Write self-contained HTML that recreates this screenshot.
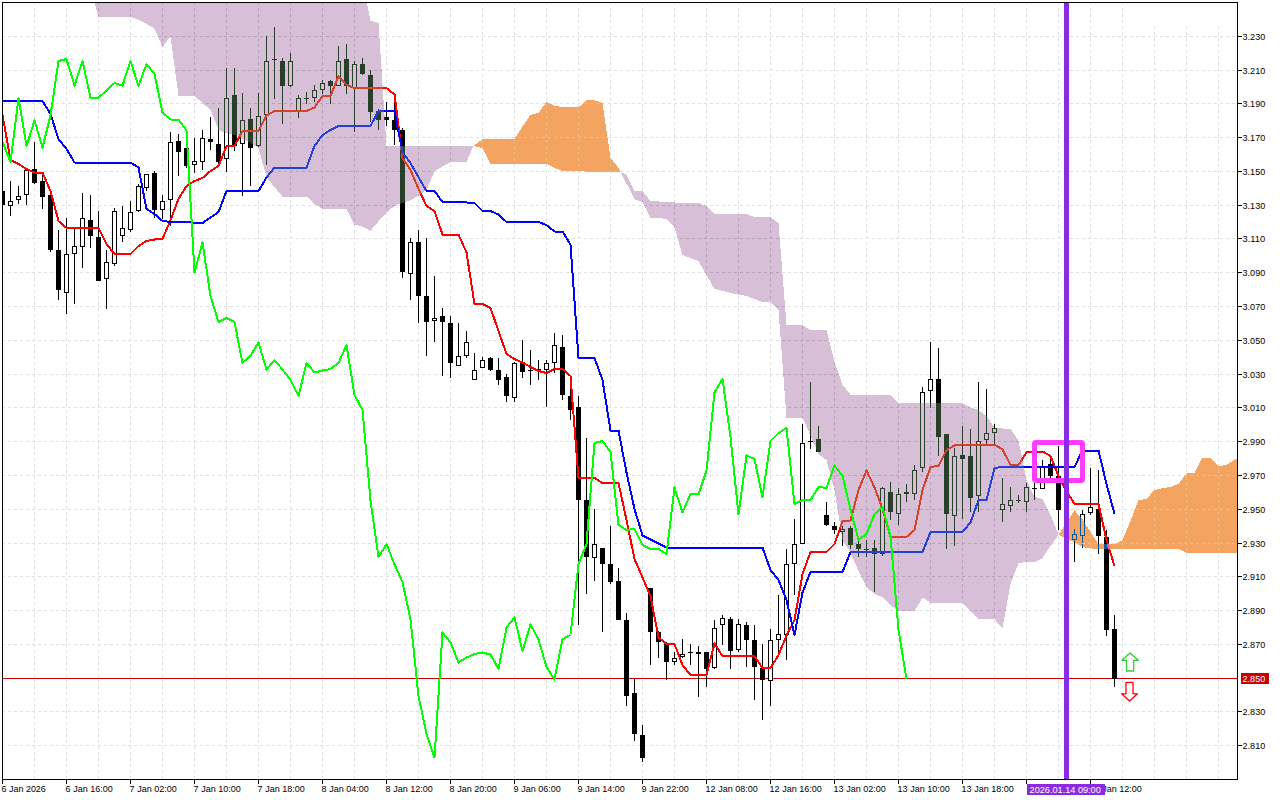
<!DOCTYPE html><html><head><meta charset="utf-8"><title>Chart</title>
<style>html,body{margin:0;padding:0;background:#fff;overflow:hidden}svg{display:block}text{font-family:"Liberation Sans",sans-serif;font-size:9.5px}.ce{shape-rendering:crispEdges}</style></head><body>
<svg width="1280" height="800" viewBox="0 0 1280 800">
<defs>
<clipPath id="cp"><polygon points="94.6,3.0 367.0,3.0 370.5,21.0 378.5,23.0 386.5,146.0 473.5,146.0 466.5,161.8 458.5,162.0 450.5,162.0 442.5,166.5 434.5,171.2 426.5,190.0 418.5,195.6 410.5,200.3 402.5,203.0 394.5,206.0 386.5,212.5 378.5,221.5 370.5,230.7 362.5,226.5 354.5,224.7 346.5,208.8 338.5,208.8 330.5,208.8 322.5,208.8 314.5,204.0 306.5,196.5 298.5,196.5 290.5,196.5 282.5,196.5 274.5,187.0 266.5,177.0 258.5,148.0 250.5,143.0 242.5,139.0 234.5,135.0 226.5,133.0 218.5,130.0 210.5,109.7 202.5,103.0 194.5,96.0 186.5,96.0 178.5,95.6 170.5,36.5 162.5,47.0 154.5,28.5 146.5,24.0 138.5,19.5 130.5,17.0 122.5,16.9 114.5,16.8 106.5,16.6 98.5,16.5"/><polygon points="620.5,172.2 626.5,174.5 634.5,191.0 642.5,191.0 650.5,201.0 658.5,201.5 666.5,202.0 674.5,202.5 682.5,202.7 690.5,203.0 698.5,203.0 706.5,206.0 714.5,214.0 722.5,214.0 730.5,214.0 738.5,214.0 746.5,214.0 754.5,217.0 762.5,217.0 770.5,217.0 778.5,223.0 786.5,325.0 794.5,325.0 802.5,325.0 810.5,330.0 818.5,330.0 826.5,330.0 834.5,362.0 842.5,384.5 850.5,394.5 858.5,394.5 866.5,394.5 874.5,394.5 882.5,394.5 890.5,394.5 898.5,403.0 906.5,403.0 914.5,403.0 922.5,403.0 930.5,403.0 938.5,403.0 946.5,403.0 954.5,403.0 962.5,403.0 970.5,407.5 978.5,410.0 986.5,416.0 994.5,427.5 1002.5,428.5 1010.5,428.5 1018.5,440.5 1026.5,480.0 1034.5,497.0 1042.5,499.0 1050.5,514.5 1058.5,535.0 1050.5,546.0 1042.5,558.0 1034.5,562.0 1026.5,562.0 1018.5,563.0 1010.5,584.0 1002.5,628.0 994.5,619.4 986.5,619.4 978.5,619.4 970.5,611.0 962.5,603.0 954.5,603.0 946.5,603.0 938.5,603.0 930.5,602.5 922.5,597.5 914.5,611.0 906.5,611.0 898.5,611.0 890.5,605.0 882.5,597.0 874.5,594.0 866.5,587.0 858.5,571.0 850.5,552.5 842.5,540.0 834.5,490.0 826.5,460.0 818.5,454.0 810.5,436.0 802.5,417.5 794.5,417.5 786.5,417.5 778.5,310.0 770.5,302.0 762.5,302.0 754.5,299.0 746.5,296.0 738.5,294.5 730.5,293.0 722.5,291.0 714.5,289.0 706.5,275.0 698.5,261.0 690.5,258.0 682.5,255.0 674.5,227.5 666.5,219.0 658.5,218.0 650.5,217.5 642.5,202.0 634.5,199.5 626.5,183.5"/></clipPath>
<clipPath id="co"><polygon points="473.5,146.0 482.5,139.2 490.5,139.2 498.5,139.1 506.5,139.1 514.5,139.0 522.5,126.5 530.5,114.8 538.5,113.0 546.5,101.8 554.5,105.5 562.5,107.3 570.5,107.3 578.5,107.3 586.5,100.2 594.5,100.2 602.5,103.2 610.5,158.0 618.5,167.8 620.5,172.2 618.5,172.0 610.5,171.9 602.5,171.8 594.5,171.7 586.5,171.5 578.5,171.4 570.5,171.3 562.5,171.2 554.5,167.8 546.5,163.5 538.5,163.5 530.5,163.5 522.5,163.5 514.5,163.5 506.5,163.5 498.5,163.5 490.5,163.5 482.5,148.2"/><polygon points="1058.5,535.0 1066.5,522.5 1074.5,510.4 1082.5,519.0 1090.5,532.0 1098.5,544.0 1106.5,544.0 1114.5,544.0 1122.5,540.0 1130.5,521.0 1138.5,500.0 1146.5,499.0 1154.5,490.0 1162.5,488.0 1170.5,487.0 1178.5,484.0 1186.5,473.5 1194.5,473.0 1202.5,457.5 1210.5,458.5 1218.5,466.0 1226.5,465.0 1234.5,459.5 1237.0,459.0 1237.0,553.0 1234.5,553.0 1226.5,553.0 1218.5,553.0 1210.5,553.0 1202.5,553.0 1194.5,553.0 1186.5,553.0 1178.5,549.0 1170.5,549.0 1162.5,549.0 1154.5,549.0 1146.5,549.0 1138.5,549.0 1130.5,549.0 1122.5,549.0 1114.5,549.0 1106.5,549.0 1098.5,549.0 1090.5,548.4 1082.5,547.0 1074.5,542.0 1066.5,539.0"/></clipPath>
<clipPath id="chart"><rect x="3" y="3" width="1234" height="776"/></clipPath>
<g id="grid" class="ce" stroke-width="1" stroke-dasharray="3 3" fill="none"><line x1="2" x2="1237" y1="36.5" y2="36.5"/><line x1="2" x2="1237" y1="70.5" y2="70.5"/><line x1="2" x2="1237" y1="103.5" y2="103.5"/><line x1="2" x2="1237" y1="137.5" y2="137.5"/><line x1="2" x2="1237" y1="171.5" y2="171.5"/><line x1="2" x2="1237" y1="205.5" y2="205.5"/><line x1="2" x2="1237" y1="238.5" y2="238.5"/><line x1="2" x2="1237" y1="272.5" y2="272.5"/><line x1="2" x2="1237" y1="306.5" y2="306.5"/><line x1="2" x2="1237" y1="340.5" y2="340.5"/><line x1="2" x2="1237" y1="374.5" y2="374.5"/><line x1="2" x2="1237" y1="407.5" y2="407.5"/><line x1="2" x2="1237" y1="441.5" y2="441.5"/><line x1="2" x2="1237" y1="475.5" y2="475.5"/><line x1="2" x2="1237" y1="509.5" y2="509.5"/><line x1="2" x2="1237" y1="543.5" y2="543.5"/><line x1="2" x2="1237" y1="576.5" y2="576.5"/><line x1="2" x2="1237" y1="610.5" y2="610.5"/><line x1="2" x2="1237" y1="644.5" y2="644.5"/><line x1="2" x2="1237" y1="678.5" y2="678.5"/><line x1="2" x2="1237" y1="711.5" y2="711.5"/><line x1="2" x2="1237" y1="745.5" y2="745.5"/><line x1="34.5" x2="34.5" y1="2" y2="779"/><line x1="66.5" x2="66.5" y1="2" y2="779"/><line x1="98.5" x2="98.5" y1="2" y2="779"/><line x1="130.5" x2="130.5" y1="2" y2="779"/><line x1="162.5" x2="162.5" y1="2" y2="779"/><line x1="194.5" x2="194.5" y1="2" y2="779"/><line x1="226.5" x2="226.5" y1="2" y2="779"/><line x1="258.5" x2="258.5" y1="2" y2="779"/><line x1="290.5" x2="290.5" y1="2" y2="779"/><line x1="322.5" x2="322.5" y1="2" y2="779"/><line x1="354.5" x2="354.5" y1="2" y2="779"/><line x1="386.5" x2="386.5" y1="2" y2="779"/><line x1="418.5" x2="418.5" y1="2" y2="779"/><line x1="450.5" x2="450.5" y1="2" y2="779"/><line x1="482.5" x2="482.5" y1="2" y2="779"/><line x1="514.5" x2="514.5" y1="2" y2="779"/><line x1="546.5" x2="546.5" y1="2" y2="779"/><line x1="578.5" x2="578.5" y1="2" y2="779"/><line x1="610.5" x2="610.5" y1="2" y2="779"/><line x1="642.5" x2="642.5" y1="2" y2="779"/><line x1="674.5" x2="674.5" y1="2" y2="779"/><line x1="706.5" x2="706.5" y1="2" y2="779"/><line x1="738.5" x2="738.5" y1="2" y2="779"/><line x1="770.5" x2="770.5" y1="2" y2="779"/><line x1="802.5" x2="802.5" y1="2" y2="779"/><line x1="834.5" x2="834.5" y1="2" y2="779"/><line x1="866.5" x2="866.5" y1="2" y2="779"/><line x1="898.5" x2="898.5" y1="2" y2="779"/><line x1="930.5" x2="930.5" y1="2" y2="779"/><line x1="962.5" x2="962.5" y1="2" y2="779"/><line x1="994.5" x2="994.5" y1="2" y2="779"/><line x1="1026.5" x2="1026.5" y1="2" y2="779"/><line x1="1058.5" x2="1058.5" y1="2" y2="779"/><line x1="1090.5" x2="1090.5" y1="2" y2="779"/><line x1="1122.5" x2="1122.5" y1="2" y2="779"/><line x1="1154.5" x2="1154.5" y1="2" y2="779"/><line x1="1186.5" x2="1186.5" y1="2" y2="779"/><line x1="1218.5" x2="1218.5" y1="2" y2="779"/></g>
</defs>
<g style="isolation:isolate">
<rect x="0" y="0" width="1280" height="800" fill="#fff"/>
<use href="#grid" stroke="#e0e0e0"/>
<rect x="1124" y="3" width="113" height="23" fill="#fff"/>
<rect class="ce" x="3" y="678" width="1234" height="1" fill="#c80000"/>
<g class="ce" clip-path="url(#chart)">
<rect x="2" y="188" width="1" height="20" fill="#000"/>
<rect x="0" y="191" width="5" height="14" fill="#000"/>
<rect x="10" y="181" width="1" height="35" fill="#000"/>
<rect x="8" y="201" width="5" height="5" fill="#000"/>
<rect x="9" y="202" width="3" height="3" fill="#fff"/>
<rect x="18" y="186" width="1" height="18" fill="#000"/>
<rect x="16" y="196" width="5" height="4" fill="#000"/>
<rect x="17" y="197" width="3" height="2" fill="#fff"/>
<rect x="26" y="169" width="1" height="36" fill="#000"/>
<rect x="24" y="170" width="5" height="25" fill="#000"/>
<rect x="25" y="171" width="3" height="23" fill="#fff"/>
<rect x="34" y="142" width="1" height="42" fill="#000"/>
<rect x="32" y="169" width="5" height="14" fill="#000"/>
<rect x="42" y="174" width="1" height="35" fill="#000"/>
<rect x="40" y="181" width="5" height="16" fill="#000"/>
<rect x="50" y="195" width="1" height="57" fill="#000"/>
<rect x="48" y="195" width="5" height="55" fill="#000"/>
<rect x="58" y="230" width="1" height="70" fill="#000"/>
<rect x="56" y="250" width="5" height="40" fill="#000"/>
<rect x="66" y="218" width="1" height="96" fill="#000"/>
<rect x="64" y="254" width="5" height="39" fill="#000"/>
<rect x="65" y="255" width="3" height="37" fill="#fff"/>
<rect x="74" y="229" width="1" height="75" fill="#000"/>
<rect x="72" y="246" width="5" height="8" fill="#000"/>
<rect x="73" y="247" width="3" height="6" fill="#fff"/>
<rect x="82" y="193" width="1" height="75" fill="#000"/>
<rect x="80" y="218" width="5" height="29" fill="#000"/>
<rect x="81" y="219" width="3" height="27" fill="#fff"/>
<rect x="90" y="195" width="1" height="53" fill="#000"/>
<rect x="88" y="220" width="5" height="16" fill="#000"/>
<rect x="98" y="211" width="1" height="70" fill="#000"/>
<rect x="96" y="237" width="5" height="44" fill="#000"/>
<rect x="106" y="250" width="1" height="59" fill="#000"/>
<rect x="104" y="262" width="5" height="17" fill="#000"/>
<rect x="105" y="263" width="3" height="15" fill="#fff"/>
<rect x="114" y="208" width="1" height="58" fill="#000"/>
<rect x="112" y="211" width="5" height="53" fill="#000"/>
<rect x="113" y="212" width="3" height="51" fill="#fff"/>
<rect x="122" y="206" width="1" height="36" fill="#000"/>
<rect x="120" y="228" width="5" height="8" fill="#000"/>
<rect x="121" y="229" width="3" height="6" fill="#fff"/>
<rect x="130" y="201" width="1" height="31" fill="#000"/>
<rect x="128" y="212" width="5" height="18" fill="#000"/>
<rect x="129" y="213" width="3" height="16" fill="#fff"/>
<rect x="138" y="184" width="1" height="28" fill="#000"/>
<rect x="136" y="186" width="5" height="25" fill="#000"/>
<rect x="137" y="187" width="3" height="23" fill="#fff"/>
<rect x="146" y="174" width="1" height="17" fill="#000"/>
<rect x="144" y="174" width="5" height="14" fill="#000"/>
<rect x="145" y="175" width="3" height="12" fill="#fff"/>
<rect x="154" y="171" width="1" height="47" fill="#000"/>
<rect x="152" y="173" width="5" height="37" fill="#000"/>
<rect x="162" y="195" width="1" height="24" fill="#000"/>
<rect x="160" y="201" width="5" height="9" fill="#000"/>
<rect x="161" y="202" width="3" height="7" fill="#fff"/>
<rect x="170" y="132" width="1" height="94" fill="#000"/>
<rect x="168" y="142" width="5" height="58" fill="#000"/>
<rect x="169" y="143" width="3" height="56" fill="#fff"/>
<rect x="178" y="134" width="1" height="42" fill="#000"/>
<rect x="176" y="141" width="5" height="11" fill="#000"/>
<rect x="186" y="147" width="1" height="21" fill="#000"/>
<rect x="184" y="148" width="5" height="18" fill="#000"/>
<rect x="194" y="138" width="1" height="35" fill="#000"/>
<rect x="192" y="161" width="5" height="4" fill="#000"/>
<rect x="193" y="162" width="3" height="2" fill="#fff"/>
<rect x="202" y="130" width="1" height="40" fill="#000"/>
<rect x="200" y="138" width="5" height="24" fill="#000"/>
<rect x="201" y="139" width="3" height="22" fill="#fff"/>
<rect x="210" y="117" width="1" height="33" fill="#000"/>
<rect x="208" y="139" width="5" height="3" fill="#000"/>
<rect x="218" y="108" width="1" height="56" fill="#000"/>
<rect x="216" y="144" width="5" height="18" fill="#000"/>
<rect x="226" y="68" width="1" height="104" fill="#000"/>
<rect x="224" y="98" width="5" height="61" fill="#000"/>
<rect x="225" y="99" width="3" height="59" fill="#fff"/>
<rect x="234" y="68" width="1" height="83" fill="#000"/>
<rect x="232" y="95" width="5" height="51" fill="#000"/>
<rect x="242" y="93" width="1" height="103" fill="#000"/>
<rect x="240" y="120" width="5" height="24" fill="#000"/>
<rect x="241" y="121" width="3" height="22" fill="#fff"/>
<rect x="250" y="108" width="1" height="78" fill="#000"/>
<rect x="248" y="119" width="5" height="29" fill="#000"/>
<rect x="258" y="93" width="1" height="54" fill="#000"/>
<rect x="256" y="116" width="5" height="30" fill="#000"/>
<rect x="257" y="117" width="3" height="28" fill="#fff"/>
<rect x="266" y="36" width="1" height="129" fill="#000"/>
<rect x="264" y="61" width="5" height="54" fill="#000"/>
<rect x="265" y="62" width="3" height="52" fill="#fff"/>
<rect x="274" y="27" width="1" height="72" fill="#000"/>
<rect x="272" y="59" width="5" height="1" fill="#000"/>
<rect x="282" y="58" width="1" height="66" fill="#000"/>
<rect x="280" y="61" width="5" height="25" fill="#000"/>
<rect x="290" y="53" width="1" height="34" fill="#000"/>
<rect x="288" y="61" width="5" height="25" fill="#000"/>
<rect x="289" y="62" width="3" height="23" fill="#fff"/>
<rect x="298" y="95" width="1" height="23" fill="#000"/>
<rect x="296" y="98" width="5" height="13" fill="#000"/>
<rect x="297" y="99" width="3" height="11" fill="#fff"/>
<rect x="306" y="92" width="1" height="12" fill="#000"/>
<rect x="304" y="98" width="5" height="1" fill="#000"/>
<rect x="314" y="85" width="1" height="17" fill="#000"/>
<rect x="312" y="90" width="5" height="8" fill="#000"/>
<rect x="313" y="91" width="3" height="6" fill="#fff"/>
<rect x="322" y="80" width="1" height="14" fill="#000"/>
<rect x="320" y="83" width="5" height="7" fill="#000"/>
<rect x="321" y="84" width="3" height="5" fill="#fff"/>
<rect x="330" y="80" width="1" height="24" fill="#000"/>
<rect x="328" y="81" width="5" height="5" fill="#000"/>
<rect x="338" y="46" width="1" height="40" fill="#000"/>
<rect x="336" y="61" width="5" height="25" fill="#000"/>
<rect x="337" y="62" width="3" height="23" fill="#fff"/>
<rect x="346" y="44" width="1" height="50" fill="#000"/>
<rect x="344" y="59" width="5" height="27" fill="#000"/>
<rect x="354" y="61" width="1" height="71" fill="#000"/>
<rect x="352" y="64" width="5" height="24" fill="#000"/>
<rect x="353" y="65" width="3" height="22" fill="#fff"/>
<rect x="362" y="58" width="1" height="17" fill="#000"/>
<rect x="360" y="64" width="5" height="10" fill="#000"/>
<rect x="370" y="70" width="1" height="52" fill="#000"/>
<rect x="368" y="75" width="5" height="37" fill="#000"/>
<rect x="378" y="109" width="1" height="21" fill="#000"/>
<rect x="376" y="111" width="5" height="9" fill="#000"/>
<rect x="386" y="102" width="1" height="24" fill="#000"/>
<rect x="384" y="117" width="5" height="3" fill="#000"/>
<rect x="394" y="102" width="1" height="43" fill="#000"/>
<rect x="392" y="120" width="5" height="10" fill="#000"/>
<rect x="402" y="128" width="1" height="150" fill="#000"/>
<rect x="400" y="130" width="5" height="142" fill="#000"/>
<rect x="410" y="238" width="1" height="62" fill="#000"/>
<rect x="408" y="242" width="5" height="32" fill="#000"/>
<rect x="409" y="243" width="3" height="30" fill="#fff"/>
<rect x="418" y="230" width="1" height="93" fill="#000"/>
<rect x="416" y="242" width="5" height="54" fill="#000"/>
<rect x="426" y="238" width="1" height="118" fill="#000"/>
<rect x="424" y="296" width="5" height="26" fill="#000"/>
<rect x="434" y="276" width="1" height="66" fill="#000"/>
<rect x="432" y="318" width="5" height="3" fill="#000"/>
<rect x="433" y="319" width="3" height="1" fill="#fff"/>
<rect x="442" y="308" width="1" height="68" fill="#000"/>
<rect x="440" y="316" width="5" height="6" fill="#000"/>
<rect x="450" y="316" width="1" height="62" fill="#000"/>
<rect x="448" y="323" width="5" height="40" fill="#000"/>
<rect x="458" y="323" width="1" height="43" fill="#000"/>
<rect x="456" y="356" width="5" height="10" fill="#000"/>
<rect x="457" y="357" width="3" height="8" fill="#fff"/>
<rect x="466" y="331" width="1" height="27" fill="#000"/>
<rect x="464" y="342" width="5" height="14" fill="#000"/>
<rect x="465" y="343" width="3" height="12" fill="#fff"/>
<rect x="474" y="353" width="1" height="27" fill="#000"/>
<rect x="472" y="370" width="5" height="10" fill="#000"/>
<rect x="473" y="371" width="3" height="8" fill="#fff"/>
<rect x="482" y="357" width="1" height="11" fill="#000"/>
<rect x="480" y="360" width="5" height="8" fill="#000"/>
<rect x="481" y="361" width="3" height="6" fill="#fff"/>
<rect x="490" y="357" width="1" height="14" fill="#000"/>
<rect x="488" y="358" width="5" height="12" fill="#000"/>
<rect x="498" y="358" width="1" height="27" fill="#000"/>
<rect x="496" y="370" width="5" height="10" fill="#000"/>
<rect x="506" y="374" width="1" height="28" fill="#000"/>
<rect x="504" y="377" width="5" height="19" fill="#000"/>
<rect x="514" y="362" width="1" height="40" fill="#000"/>
<rect x="512" y="363" width="5" height="35" fill="#000"/>
<rect x="513" y="364" width="3" height="33" fill="#fff"/>
<rect x="522" y="340" width="1" height="38" fill="#000"/>
<rect x="520" y="363" width="5" height="9" fill="#000"/>
<rect x="530" y="350" width="1" height="35" fill="#000"/>
<rect x="528" y="370" width="5" height="1" fill="#000"/>
<rect x="538" y="360" width="1" height="20" fill="#000"/>
<rect x="536" y="369" width="5" height="1" fill="#000"/>
<rect x="546" y="360" width="1" height="47" fill="#000"/>
<rect x="544" y="363" width="5" height="7" fill="#000"/>
<rect x="545" y="364" width="3" height="5" fill="#fff"/>
<rect x="554" y="333" width="1" height="40" fill="#000"/>
<rect x="552" y="345" width="5" height="18" fill="#000"/>
<rect x="553" y="346" width="3" height="16" fill="#fff"/>
<rect x="562" y="335" width="1" height="65" fill="#000"/>
<rect x="560" y="347" width="5" height="48" fill="#000"/>
<rect x="570" y="389" width="1" height="31" fill="#000"/>
<rect x="568" y="396" width="5" height="14" fill="#000"/>
<rect x="578" y="396" width="1" height="229" fill="#000"/>
<rect x="576" y="407" width="5" height="93" fill="#000"/>
<rect x="586" y="438" width="1" height="156" fill="#000"/>
<rect x="584" y="500" width="5" height="57" fill="#000"/>
<rect x="594" y="509" width="1" height="72" fill="#000"/>
<rect x="592" y="544" width="5" height="14" fill="#000"/>
<rect x="593" y="545" width="3" height="12" fill="#fff"/>
<rect x="602" y="548" width="1" height="84" fill="#000"/>
<rect x="600" y="548" width="5" height="16" fill="#000"/>
<rect x="610" y="526" width="1" height="58" fill="#000"/>
<rect x="608" y="564" width="5" height="18" fill="#000"/>
<rect x="618" y="568" width="1" height="52" fill="#000"/>
<rect x="616" y="581" width="5" height="39" fill="#000"/>
<rect x="626" y="613" width="1" height="93" fill="#000"/>
<rect x="624" y="620" width="5" height="76" fill="#000"/>
<rect x="634" y="679" width="1" height="62" fill="#000"/>
<rect x="632" y="693" width="5" height="41" fill="#000"/>
<rect x="642" y="725" width="1" height="37" fill="#000"/>
<rect x="640" y="735" width="5" height="23" fill="#000"/>
<rect x="650" y="588" width="1" height="77" fill="#000"/>
<rect x="648" y="588" width="5" height="44" fill="#000"/>
<rect x="658" y="631" width="1" height="27" fill="#000"/>
<rect x="656" y="632" width="5" height="10" fill="#000"/>
<rect x="666" y="642" width="1" height="38" fill="#000"/>
<rect x="664" y="644" width="5" height="18" fill="#000"/>
<rect x="674" y="652" width="1" height="13" fill="#000"/>
<rect x="672" y="658" width="5" height="4" fill="#000"/>
<rect x="673" y="659" width="3" height="2" fill="#fff"/>
<rect x="682" y="639" width="1" height="19" fill="#000"/>
<rect x="680" y="654" width="5" height="3" fill="#000"/>
<rect x="681" y="655" width="3" height="1" fill="#fff"/>
<rect x="690" y="644" width="1" height="21" fill="#000"/>
<rect x="688" y="652" width="5" height="1" fill="#000"/>
<rect x="698" y="646" width="1" height="51" fill="#000"/>
<rect x="696" y="652" width="5" height="2" fill="#000"/>
<rect x="706" y="652" width="1" height="35" fill="#000"/>
<rect x="704" y="652" width="5" height="17" fill="#000"/>
<rect x="714" y="620" width="1" height="49" fill="#000"/>
<rect x="712" y="628" width="5" height="40" fill="#000"/>
<rect x="713" y="629" width="3" height="38" fill="#fff"/>
<rect x="722" y="615" width="1" height="30" fill="#000"/>
<rect x="720" y="618" width="5" height="7" fill="#000"/>
<rect x="721" y="619" width="3" height="5" fill="#fff"/>
<rect x="730" y="617" width="1" height="52" fill="#000"/>
<rect x="728" y="619" width="5" height="32" fill="#000"/>
<rect x="738" y="619" width="1" height="33" fill="#000"/>
<rect x="736" y="624" width="5" height="26" fill="#000"/>
<rect x="737" y="625" width="3" height="24" fill="#fff"/>
<rect x="746" y="622" width="1" height="45" fill="#000"/>
<rect x="744" y="625" width="5" height="15" fill="#000"/>
<rect x="754" y="625" width="1" height="75" fill="#000"/>
<rect x="752" y="640" width="5" height="27" fill="#000"/>
<rect x="762" y="644" width="1" height="76" fill="#000"/>
<rect x="760" y="668" width="5" height="12" fill="#000"/>
<rect x="770" y="629" width="1" height="77" fill="#000"/>
<rect x="768" y="640" width="5" height="41" fill="#000"/>
<rect x="769" y="641" width="3" height="39" fill="#fff"/>
<rect x="778" y="595" width="1" height="57" fill="#000"/>
<rect x="776" y="634" width="5" height="6" fill="#000"/>
<rect x="777" y="635" width="3" height="4" fill="#fff"/>
<rect x="786" y="549" width="1" height="111" fill="#000"/>
<rect x="784" y="564" width="5" height="71" fill="#000"/>
<rect x="785" y="565" width="3" height="69" fill="#fff"/>
<rect x="794" y="519" width="1" height="76" fill="#000"/>
<rect x="792" y="544" width="5" height="20" fill="#000"/>
<rect x="793" y="545" width="3" height="18" fill="#fff"/>
<rect x="802" y="424" width="1" height="120" fill="#000"/>
<rect x="800" y="443" width="5" height="101" fill="#000"/>
<rect x="801" y="444" width="3" height="99" fill="#fff"/>
<rect x="810" y="382" width="1" height="67" fill="#000"/>
<rect x="808" y="441" width="5" height="1" fill="#000"/>
<rect x="818" y="426" width="1" height="26" fill="#000"/>
<rect x="816" y="439" width="5" height="13" fill="#000"/>
<rect x="826" y="502" width="1" height="24" fill="#000"/>
<rect x="824" y="515" width="5" height="10" fill="#000"/>
<rect x="834" y="522" width="1" height="12" fill="#000"/>
<rect x="832" y="526" width="5" height="4" fill="#000"/>
<rect x="842" y="526" width="1" height="20" fill="#000"/>
<rect x="840" y="529" width="5" height="3" fill="#000"/>
<rect x="841" y="530" width="3" height="1" fill="#fff"/>
<rect x="850" y="526" width="1" height="23" fill="#000"/>
<rect x="848" y="528" width="5" height="17" fill="#000"/>
<rect x="858" y="541" width="1" height="16" fill="#000"/>
<rect x="856" y="544" width="5" height="5" fill="#000"/>
<rect x="866" y="540" width="1" height="17" fill="#000"/>
<rect x="864" y="549" width="5" height="1" fill="#000"/>
<rect x="874" y="540" width="1" height="52" fill="#000"/>
<rect x="872" y="548" width="5" height="6" fill="#000"/>
<rect x="882" y="487" width="1" height="69" fill="#000"/>
<rect x="880" y="488" width="5" height="66" fill="#000"/>
<rect x="881" y="489" width="3" height="64" fill="#fff"/>
<rect x="890" y="482" width="1" height="38" fill="#000"/>
<rect x="888" y="492" width="5" height="20" fill="#000"/>
<rect x="898" y="488" width="1" height="37" fill="#000"/>
<rect x="896" y="494" width="5" height="20" fill="#000"/>
<rect x="897" y="495" width="3" height="18" fill="#fff"/>
<rect x="906" y="484" width="1" height="18" fill="#000"/>
<rect x="904" y="492" width="5" height="2" fill="#000"/>
<rect x="914" y="465" width="1" height="35" fill="#000"/>
<rect x="912" y="470" width="5" height="24" fill="#000"/>
<rect x="913" y="471" width="3" height="22" fill="#fff"/>
<rect x="922" y="387" width="1" height="85" fill="#000"/>
<rect x="920" y="392" width="5" height="76" fill="#000"/>
<rect x="921" y="393" width="3" height="74" fill="#fff"/>
<rect x="930" y="342" width="1" height="66" fill="#000"/>
<rect x="928" y="379" width="5" height="12" fill="#000"/>
<rect x="929" y="380" width="3" height="10" fill="#fff"/>
<rect x="938" y="348" width="1" height="108" fill="#000"/>
<rect x="936" y="379" width="5" height="58" fill="#000"/>
<rect x="946" y="434" width="1" height="115" fill="#000"/>
<rect x="944" y="434" width="5" height="80" fill="#000"/>
<rect x="954" y="448" width="1" height="98" fill="#000"/>
<rect x="952" y="456" width="5" height="60" fill="#000"/>
<rect x="953" y="457" width="3" height="58" fill="#fff"/>
<rect x="962" y="426" width="1" height="93" fill="#000"/>
<rect x="960" y="455" width="5" height="4" fill="#000"/>
<rect x="970" y="429" width="1" height="83" fill="#000"/>
<rect x="968" y="456" width="5" height="42" fill="#000"/>
<rect x="978" y="382" width="1" height="130" fill="#000"/>
<rect x="976" y="441" width="5" height="55" fill="#000"/>
<rect x="977" y="442" width="3" height="53" fill="#fff"/>
<rect x="986" y="389" width="1" height="55" fill="#000"/>
<rect x="984" y="433" width="5" height="7" fill="#000"/>
<rect x="985" y="434" width="3" height="5" fill="#fff"/>
<rect x="994" y="424" width="1" height="20" fill="#000"/>
<rect x="992" y="428" width="5" height="5" fill="#000"/>
<rect x="993" y="429" width="3" height="3" fill="#fff"/>
<rect x="1002" y="478" width="1" height="44" fill="#000"/>
<rect x="1000" y="504" width="5" height="6" fill="#000"/>
<rect x="1001" y="505" width="3" height="4" fill="#fff"/>
<rect x="1010" y="487" width="1" height="25" fill="#000"/>
<rect x="1008" y="500" width="5" height="6" fill="#000"/>
<rect x="1009" y="501" width="3" height="4" fill="#fff"/>
<rect x="1018" y="495" width="1" height="8" fill="#000"/>
<rect x="1016" y="500" width="5" height="1" fill="#000"/>
<rect x="1026" y="483" width="1" height="29" fill="#000"/>
<rect x="1024" y="487" width="5" height="15" fill="#000"/>
<rect x="1025" y="488" width="3" height="13" fill="#fff"/>
<rect x="1034" y="483" width="1" height="17" fill="#000"/>
<rect x="1032" y="488" width="5" height="1" fill="#000"/>
<rect x="1042" y="460" width="1" height="29" fill="#000"/>
<rect x="1040" y="466" width="5" height="23" fill="#000"/>
<rect x="1041" y="467" width="3" height="21" fill="#fff"/>
<rect x="1050" y="459" width="1" height="19" fill="#000"/>
<rect x="1048" y="464" width="5" height="12" fill="#000"/>
<rect x="1058" y="446" width="1" height="84" fill="#000"/>
<rect x="1056" y="476" width="5" height="34" fill="#000"/>
<rect x="1066" y="505" width="1" height="40" fill="#000"/>
<rect x="1064" y="510" width="5" height="30" fill="#000"/>
<rect x="1074" y="529" width="1" height="33" fill="#000"/>
<rect x="1072" y="534" width="5" height="6" fill="#000"/>
<rect x="1073" y="535" width="3" height="4" fill="#fff"/>
<rect x="1082" y="510" width="1" height="38" fill="#000"/>
<rect x="1080" y="514" width="5" height="22" fill="#000"/>
<rect x="1081" y="515" width="3" height="20" fill="#fff"/>
<rect x="1090" y="468" width="1" height="47" fill="#000"/>
<rect x="1088" y="507" width="5" height="6" fill="#000"/>
<rect x="1089" y="508" width="3" height="4" fill="#fff"/>
<rect x="1098" y="470" width="1" height="84" fill="#000"/>
<rect x="1096" y="509" width="5" height="27" fill="#000"/>
<rect x="1106" y="530" width="1" height="106" fill="#000"/>
<rect x="1104" y="537" width="5" height="93" fill="#000"/>
<rect x="1114" y="615" width="1" height="72" fill="#000"/>
<rect x="1112" y="629" width="5" height="50" fill="#000"/>
</g>
<polyline class="ce" clip-path="url(#chart)" points="2.5,115.0 10.5,160.0 18.5,164.0 26.5,169.0 34.5,172.5 42.5,172.5 50.5,191.0 58.5,221.0 66.5,228.0 74.5,228.0 82.5,228.0 90.5,228.0 98.5,228.0 106.5,244.0 114.5,254.0 122.5,254.0 130.5,254.0 138.5,246.0 146.5,241.0 154.5,239.5 162.5,239.0 170.5,220.0 178.5,199.0 186.5,186.0 194.5,181.0 202.5,178.0 210.5,171.0 218.5,166.0 226.5,146.0 234.5,146.0 242.5,131.0 250.5,131.0 258.5,131.0 266.5,115.5 274.5,111.0 282.5,111.0 290.5,111.0 298.5,111.0 306.5,111.0 314.5,107.5 322.5,96.0 330.5,96.0 338.5,76.0 346.5,85.0 354.5,88.0 362.5,88.0 370.5,88.0 378.5,88.0 386.5,88.0 394.5,94.5 402.5,158.0 410.5,170.0 418.5,189.0 426.5,206.0 434.5,211.0 442.5,234.5 450.5,234.5 458.5,234.5 466.5,252.5 474.5,304.0 482.5,304.0 490.5,308.0 498.5,331.0 506.5,354.0 514.5,359.0 522.5,362.5 530.5,367.0 538.5,371.0 546.5,373.0 554.5,369.0 562.5,369.0 570.5,376.0 578.5,478.0 586.5,478.0 594.5,478.0 602.5,483.0 610.5,483.0 618.5,483.0 626.5,520.0 634.5,559.0 642.5,577.5 650.5,596.0 658.5,637.5 666.5,644.0 674.5,644.0 682.5,665.0 690.5,675.0 698.5,675.0 706.5,675.0 714.5,643.5 722.5,656.0 730.5,656.0 738.5,656.0 746.5,656.0 754.5,656.0 762.5,668.0 770.5,668.0 778.5,655.0 786.5,635.5 794.5,620.0 802.5,574.0 810.5,552.0 818.5,552.0 826.5,552.0 834.5,544.0 842.5,521.5 850.5,520.5 858.5,490.0 866.5,470.5 874.5,487.5 882.5,509.0 890.5,537.0 898.5,537.0 906.5,537.0 914.5,530.0 922.5,490.0 930.5,467.0 938.5,466.0 946.5,450.0 954.5,445.5 962.5,444.5 970.5,444.5 978.5,444.5 986.5,444.5 994.5,444.5 1002.5,449.5 1010.5,465.0 1018.5,465.0 1026.5,452.5 1034.5,451.5 1042.5,451.5 1050.5,456.0 1058.5,476.0 1066.5,491.0 1074.5,504.0 1082.5,504.0 1090.5,504.0 1098.5,504.0 1106.5,540.0 1114.5,566.0" fill="none" stroke="#ff0000" stroke-width="2" stroke-linejoin="round"/>
<polyline class="ce" clip-path="url(#chart)" points="2.5,101.0 10.5,101.0 18.5,101.0 26.5,101.0 34.5,101.0 42.5,101.0 50.5,114.0 58.5,139.0 66.5,149.0 74.5,162.5 82.5,162.5 90.5,162.5 98.5,162.5 106.5,162.5 114.5,162.5 122.5,162.5 130.5,162.5 138.5,167.5 146.5,209.0 154.5,214.0 162.5,221.0 170.5,222.0 178.5,222.0 186.5,222.0 194.5,223.0 202.5,223.0 210.5,217.5 218.5,212.0 226.5,191.0 234.5,191.0 242.5,191.0 250.5,191.0 258.5,191.0 266.5,177.5 274.5,167.5 282.5,167.5 290.5,167.5 298.5,167.5 306.5,167.5 314.5,146.0 322.5,135.0 330.5,130.0 338.5,126.0 346.5,126.0 354.5,126.0 362.5,126.0 370.5,126.0 378.5,111.0 386.5,111.0 394.5,111.0 402.5,152.5 410.5,163.0 418.5,177.0 426.5,191.0 434.5,191.0 442.5,202.0 450.5,202.0 458.5,202.0 466.5,202.5 474.5,203.0 482.5,211.0 490.5,211.0 498.5,214.5 506.5,222.0 514.5,222.0 522.5,222.0 530.5,222.0 538.5,222.0 546.5,225.0 554.5,231.5 562.5,231.5 570.5,244.5 578.5,358.0 586.5,358.0 594.5,358.0 602.5,380.0 610.5,430.5 618.5,430.5 626.5,472.5 634.5,509.0 642.5,535.5 650.5,539.5 658.5,543.5 666.5,547.5 674.5,547.5 682.5,547.5 690.5,547.5 698.5,547.5 706.5,547.5 714.5,547.5 722.5,547.5 730.5,547.5 738.5,547.5 746.5,547.5 754.5,547.5 762.5,547.5 770.5,570.0 778.5,580.0 786.5,600.0 794.5,635.0 802.5,592.5 810.5,572.0 818.5,572.0 826.5,572.0 834.5,572.0 842.5,572.0 850.5,552.0 858.5,552.0 866.5,552.0 874.5,552.0 882.5,552.0 890.5,552.0 898.5,552.0 906.5,552.0 914.5,552.0 922.5,552.0 930.5,532.0 938.5,532.0 946.5,532.0 954.5,532.0 962.5,532.0 970.5,522.5 978.5,500.0 986.5,500.0 994.5,468.0 1002.5,467.0 1010.5,467.0 1018.5,467.0 1026.5,467.0 1034.5,467.0 1042.5,467.0 1050.5,467.0 1058.5,467.0 1066.5,467.0 1074.5,467.0 1082.5,450.5 1090.5,450.5 1098.5,450.5 1106.5,484.0 1114.5,514.0" fill="none" stroke="#0000ff" stroke-width="2" stroke-linejoin="round"/>
<g class="ce" style="mix-blend-mode:difference" clip-path="url(#chart)">
<polygon points="94.6,3.0 367.0,3.0 370.5,21.0 378.5,23.0 386.5,146.0 473.5,146.0 466.5,161.8 458.5,162.0 450.5,162.0 442.5,166.5 434.5,171.2 426.5,190.0 418.5,195.6 410.5,200.3 402.5,203.0 394.5,206.0 386.5,212.5 378.5,221.5 370.5,230.7 362.5,226.5 354.5,224.7 346.5,208.8 338.5,208.8 330.5,208.8 322.5,208.8 314.5,204.0 306.5,196.5 298.5,196.5 290.5,196.5 282.5,196.5 274.5,187.0 266.5,177.0 258.5,148.0 250.5,143.0 242.5,139.0 234.5,135.0 226.5,133.0 218.5,130.0 210.5,109.7 202.5,103.0 194.5,96.0 186.5,96.0 178.5,95.6 170.5,36.5 162.5,47.0 154.5,28.5 146.5,24.0 138.5,19.5 130.5,17.0 122.5,16.9 114.5,16.8 106.5,16.6 98.5,16.5" fill="rgb(39,64,39)"/>
<polygon points="620.5,172.2 626.5,174.5 634.5,191.0 642.5,191.0 650.5,201.0 658.5,201.5 666.5,202.0 674.5,202.5 682.5,202.7 690.5,203.0 698.5,203.0 706.5,206.0 714.5,214.0 722.5,214.0 730.5,214.0 738.5,214.0 746.5,214.0 754.5,217.0 762.5,217.0 770.5,217.0 778.5,223.0 786.5,325.0 794.5,325.0 802.5,325.0 810.5,330.0 818.5,330.0 826.5,330.0 834.5,362.0 842.5,384.5 850.5,394.5 858.5,394.5 866.5,394.5 874.5,394.5 882.5,394.5 890.5,394.5 898.5,403.0 906.5,403.0 914.5,403.0 922.5,403.0 930.5,403.0 938.5,403.0 946.5,403.0 954.5,403.0 962.5,403.0 970.5,407.5 978.5,410.0 986.5,416.0 994.5,427.5 1002.5,428.5 1010.5,428.5 1018.5,440.5 1026.5,480.0 1034.5,497.0 1042.5,499.0 1050.5,514.5 1058.5,535.0 1050.5,546.0 1042.5,558.0 1034.5,562.0 1026.5,562.0 1018.5,563.0 1010.5,584.0 1002.5,628.0 994.5,619.4 986.5,619.4 978.5,619.4 970.5,611.0 962.5,603.0 954.5,603.0 946.5,603.0 938.5,603.0 930.5,602.5 922.5,597.5 914.5,611.0 906.5,611.0 898.5,611.0 890.5,605.0 882.5,597.0 874.5,594.0 866.5,587.0 858.5,571.0 850.5,552.5 842.5,540.0 834.5,490.0 826.5,460.0 818.5,454.0 810.5,436.0 802.5,417.5 794.5,417.5 786.5,417.5 778.5,310.0 770.5,302.0 762.5,302.0 754.5,299.0 746.5,296.0 738.5,294.5 730.5,293.0 722.5,291.0 714.5,289.0 706.5,275.0 698.5,261.0 690.5,258.0 682.5,255.0 674.5,227.5 666.5,219.0 658.5,218.0 650.5,217.5 642.5,202.0 634.5,199.5 626.5,183.5" fill="rgb(39,64,39)"/>
<polygon points="473.5,146.0 482.5,139.2 490.5,139.2 498.5,139.1 506.5,139.1 514.5,139.0 522.5,126.5 530.5,114.8 538.5,113.0 546.5,101.8 554.5,105.5 562.5,107.3 570.5,107.3 578.5,107.3 586.5,100.2 594.5,100.2 602.5,103.2 610.5,158.0 618.5,167.8 620.5,172.2 618.5,172.0 610.5,171.9 602.5,171.8 594.5,171.7 586.5,171.5 578.5,171.4 570.5,171.3 562.5,171.2 554.5,167.8 546.5,163.5 538.5,163.5 530.5,163.5 522.5,163.5 514.5,163.5 506.5,163.5 498.5,163.5 490.5,163.5 482.5,148.2" fill="rgb(11,91,159)"/>
<polygon points="1058.5,535.0 1066.5,522.5 1074.5,510.4 1082.5,519.0 1090.5,532.0 1098.5,544.0 1106.5,544.0 1114.5,544.0 1122.5,540.0 1130.5,521.0 1138.5,500.0 1146.5,499.0 1154.5,490.0 1162.5,488.0 1170.5,487.0 1178.5,484.0 1186.5,473.5 1194.5,473.0 1202.5,457.5 1210.5,458.5 1218.5,466.0 1226.5,465.0 1234.5,459.5 1237.0,459.0 1237.0,553.0 1234.5,553.0 1226.5,553.0 1218.5,553.0 1210.5,553.0 1202.5,553.0 1194.5,553.0 1186.5,553.0 1178.5,549.0 1170.5,549.0 1162.5,549.0 1154.5,549.0 1146.5,549.0 1138.5,549.0 1130.5,549.0 1122.5,549.0 1114.5,549.0 1106.5,549.0 1098.5,549.0 1090.5,548.4 1082.5,547.0 1074.5,542.0 1066.5,539.0" fill="rgb(11,91,159)"/>
</g>
</g>
<g clip-path="url(#chart)"><g clip-path="url(#co)"><use href="#grid" stroke="rgb(238,190,128)"/></g></g>
<polyline class="ce" clip-path="url(#chart)" points="2.5,142.0 10.5,162.0 18.5,98.0 26.5,146.0 34.5,120.5 42.5,147.5 50.5,115.5 58.5,61.0 66.5,59.0 74.5,85.5 82.5,61.0 90.5,97.5 98.5,97.5 106.5,90.5 114.5,83.0 122.5,85.5 130.5,61.0 138.5,86.0 146.5,64.0 154.5,74.0 162.5,112.5 170.5,119.5 178.5,119.5 186.5,130.5 194.5,272.5 202.5,242.5 210.5,296.0 218.5,322.0 226.5,318.0 234.5,322.0 242.5,363.0 250.5,355.5 258.5,342.5 266.5,369.5 274.5,360.0 282.5,369.5 290.5,380.0 298.5,396.0 306.5,363.0 314.5,372.5 322.5,370.5 330.5,369.0 338.5,363.0 346.5,345.0 354.5,395.0 362.5,410.0 370.5,500.5 378.5,557.0 386.5,544.0 394.5,564.5 402.5,582.0 410.5,619.5 418.5,696.0 426.5,734.0 434.5,757.5 442.5,632.5 450.5,642.5 458.5,662.5 466.5,657.5 474.5,654.0 482.5,652.5 490.5,654.5 498.5,669.0 506.5,627.5 514.5,617.5 522.5,651.0 530.5,624.5 538.5,639.5 546.5,667.0 554.5,679.5 562.5,639.5 570.5,634.5 578.5,564.0 586.5,544.0 594.5,443.0 602.5,441.0 610.5,452.0 618.5,525.0 626.5,530.0 634.5,529.0 642.5,545.0 650.5,549.0 658.5,549.0 666.5,554.0 674.5,487.5 682.5,512.5 690.5,494.0 698.5,494.5 706.5,470.5 714.5,392.5 722.5,379.0 730.5,437.0 738.5,514.5 746.5,455.5 754.5,459.0 762.5,497.5 770.5,441.0 778.5,433.0 786.5,428.0 794.5,504.0 802.5,500.0 810.5,500.0 818.5,487.0 826.5,488.0 834.5,465.5 842.5,476.0 850.5,509.5 858.5,539.5 866.5,534.0 874.5,514.0 882.5,507.0 890.5,536.0 898.5,630.0 906.5,679.0" fill="none" stroke="#00ff00" stroke-width="2" stroke-linejoin="round"/>
<rect x="1034.5" y="442.5" width="48" height="38" rx="1.5" fill="none" stroke="#ff3cff" stroke-width="5"/>
<rect class="ce" x="1064" y="3" width="5" height="776" fill="#8a2be2"/>
<path d="M1130,653 L1138.2,660.3 L1133.7,660.3 L1133.7,671 L1126.5,671 L1126.5,660.3 L1122,660.3 Z" fill="none" stroke="#32cd32" stroke-width="1.3" stroke-linejoin="round"/>
<path d="M1126,682.4 L1133,682.4 L1133,693.8 L1137.5,693.8 L1129.5,701 L1121.6,693.8 L1126,693.8 Z" fill="none" stroke="#ff0000" stroke-width="1.3" stroke-linejoin="round"/>
<g class="ce" fill="#000">
<rect x="2" y="2" width="1236" height="1"/>
<rect x="2" y="2" width="1" height="778"/>
<rect x="1237" y="2" width="1" height="778"/>
<rect x="2" y="779" width="1236" height="1"/>
<rect x="1238" y="36" width="4" height="1"/>
<rect x="1238" y="70" width="4" height="1"/>
<rect x="1238" y="103" width="4" height="1"/>
<rect x="1238" y="137" width="4" height="1"/>
<rect x="1238" y="171" width="4" height="1"/>
<rect x="1238" y="205" width="4" height="1"/>
<rect x="1238" y="238" width="4" height="1"/>
<rect x="1238" y="272" width="4" height="1"/>
<rect x="1238" y="306" width="4" height="1"/>
<rect x="1238" y="340" width="4" height="1"/>
<rect x="1238" y="374" width="4" height="1"/>
<rect x="1238" y="407" width="4" height="1"/>
<rect x="1238" y="441" width="4" height="1"/>
<rect x="1238" y="475" width="4" height="1"/>
<rect x="1238" y="509" width="4" height="1"/>
<rect x="1238" y="543" width="4" height="1"/>
<rect x="1238" y="576" width="4" height="1"/>
<rect x="1238" y="610" width="4" height="1"/>
<rect x="1238" y="644" width="4" height="1"/>
<rect x="1238" y="711" width="4" height="1"/>
<rect x="1238" y="745" width="4" height="1"/>
<rect x="2" y="780" width="1" height="4"/>
<rect x="66" y="780" width="1" height="4"/>
<rect x="130" y="780" width="1" height="4"/>
<rect x="194" y="780" width="1" height="4"/>
<rect x="258" y="780" width="1" height="4"/>
<rect x="322" y="780" width="1" height="4"/>
<rect x="386" y="780" width="1" height="4"/>
<rect x="450" y="780" width="1" height="4"/>
<rect x="514" y="780" width="1" height="4"/>
<rect x="578" y="780" width="1" height="4"/>
<rect x="642" y="780" width="1" height="4"/>
<rect x="706" y="780" width="1" height="4"/>
<rect x="770" y="780" width="1" height="4"/>
<rect x="834" y="780" width="1" height="4"/>
<rect x="898" y="780" width="1" height="4"/>
<rect x="962" y="780" width="1" height="4"/>
<rect x="1026" y="780" width="1" height="4"/>
<rect x="1090" y="780" width="1" height="4"/>
</g>
<text x="1242.6" y="39.5" textLength="22.6" lengthAdjust="spacingAndGlyphs" fill="#000">3.230</text>
<text x="1242.6" y="73.5" textLength="22.6" lengthAdjust="spacingAndGlyphs" fill="#000">3.210</text>
<text x="1242.6" y="106.5" textLength="22.6" lengthAdjust="spacingAndGlyphs" fill="#000">3.190</text>
<text x="1242.6" y="140.5" textLength="22.6" lengthAdjust="spacingAndGlyphs" fill="#000">3.170</text>
<text x="1242.6" y="174.5" textLength="22.6" lengthAdjust="spacingAndGlyphs" fill="#000">3.150</text>
<text x="1242.6" y="208.5" textLength="22.6" lengthAdjust="spacingAndGlyphs" fill="#000">3.130</text>
<text x="1242.6" y="241.5" textLength="22.6" lengthAdjust="spacingAndGlyphs" fill="#000">3.110</text>
<text x="1242.6" y="275.5" textLength="22.6" lengthAdjust="spacingAndGlyphs" fill="#000">3.090</text>
<text x="1242.6" y="309.5" textLength="22.6" lengthAdjust="spacingAndGlyphs" fill="#000">3.070</text>
<text x="1242.6" y="343.5" textLength="22.6" lengthAdjust="spacingAndGlyphs" fill="#000">3.050</text>
<text x="1242.6" y="377.5" textLength="22.6" lengthAdjust="spacingAndGlyphs" fill="#000">3.030</text>
<text x="1242.6" y="410.5" textLength="22.6" lengthAdjust="spacingAndGlyphs" fill="#000">3.010</text>
<text x="1242.6" y="444.5" textLength="22.6" lengthAdjust="spacingAndGlyphs" fill="#000">2.990</text>
<text x="1242.6" y="478.5" textLength="22.6" lengthAdjust="spacingAndGlyphs" fill="#000">2.970</text>
<text x="1242.6" y="512.5" textLength="22.6" lengthAdjust="spacingAndGlyphs" fill="#000">2.950</text>
<text x="1242.6" y="546.5" textLength="22.6" lengthAdjust="spacingAndGlyphs" fill="#000">2.930</text>
<text x="1242.6" y="579.5" textLength="22.6" lengthAdjust="spacingAndGlyphs" fill="#000">2.910</text>
<text x="1242.6" y="613.5" textLength="22.6" lengthAdjust="spacingAndGlyphs" fill="#000">2.890</text>
<text x="1242.6" y="647.5" textLength="22.6" lengthAdjust="spacingAndGlyphs" fill="#000">2.870</text>
<text x="1242.6" y="714.5" textLength="22.6" lengthAdjust="spacingAndGlyphs" fill="#000">2.830</text>
<text x="1242.6" y="748.5" textLength="22.6" lengthAdjust="spacingAndGlyphs" fill="#000">2.810</text>
<rect class="ce" x="1241" y="673" width="28" height="11" fill="#c80000"/>
<text x="1242.6" y="681.5" textLength="22.6" lengthAdjust="spacingAndGlyphs" fill="#fff">2.850</text>
<text x="1.6" y="791.5" textLength="44.2" lengthAdjust="spacingAndGlyphs" fill="#000">6 Jan 2026</text>
<text x="65.6" y="791.5" textLength="47.2" lengthAdjust="spacingAndGlyphs" fill="#000">6 Jan 16:00</text>
<text x="129.6" y="791.5" textLength="47.2" lengthAdjust="spacingAndGlyphs" fill="#000">7 Jan 02:00</text>
<text x="193.6" y="791.5" textLength="47.2" lengthAdjust="spacingAndGlyphs" fill="#000">7 Jan 10:00</text>
<text x="257.6" y="791.5" textLength="47.2" lengthAdjust="spacingAndGlyphs" fill="#000">7 Jan 18:00</text>
<text x="321.6" y="791.5" textLength="47.2" lengthAdjust="spacingAndGlyphs" fill="#000">8 Jan 04:00</text>
<text x="385.6" y="791.5" textLength="47.2" lengthAdjust="spacingAndGlyphs" fill="#000">8 Jan 12:00</text>
<text x="449.6" y="791.5" textLength="47.2" lengthAdjust="spacingAndGlyphs" fill="#000">8 Jan 20:00</text>
<text x="513.6" y="791.5" textLength="47.2" lengthAdjust="spacingAndGlyphs" fill="#000">9 Jan 06:00</text>
<text x="577.6" y="791.5" textLength="47.2" lengthAdjust="spacingAndGlyphs" fill="#000">9 Jan 14:00</text>
<text x="641.6" y="791.5" textLength="47.2" lengthAdjust="spacingAndGlyphs" fill="#000">9 Jan 22:00</text>
<text x="705.6" y="791.5" textLength="52.2" lengthAdjust="spacingAndGlyphs" fill="#000">12 Jan 08:00</text>
<text x="769.6" y="791.5" textLength="52.2" lengthAdjust="spacingAndGlyphs" fill="#000">12 Jan 16:00</text>
<text x="833.6" y="791.5" textLength="52.2" lengthAdjust="spacingAndGlyphs" fill="#000">13 Jan 02:00</text>
<text x="897.6" y="791.5" textLength="52.2" lengthAdjust="spacingAndGlyphs" fill="#000">13 Jan 10:00</text>
<text x="961.6" y="791.5" textLength="52.2" lengthAdjust="spacingAndGlyphs" fill="#000">13 Jan 18:00</text>
<text x="1089.6" y="791.5" textLength="52.2" lengthAdjust="spacingAndGlyphs" fill="#000">14 Jan 12:00</text>
<rect class="ce" x="1027" y="784" width="78" height="11" fill="#8a2be2"/>
<text x="1029.6" y="792.5" textLength="71.2" lengthAdjust="spacingAndGlyphs" fill="#fff">2026.01.14 09:00</text>
</svg></body></html>
